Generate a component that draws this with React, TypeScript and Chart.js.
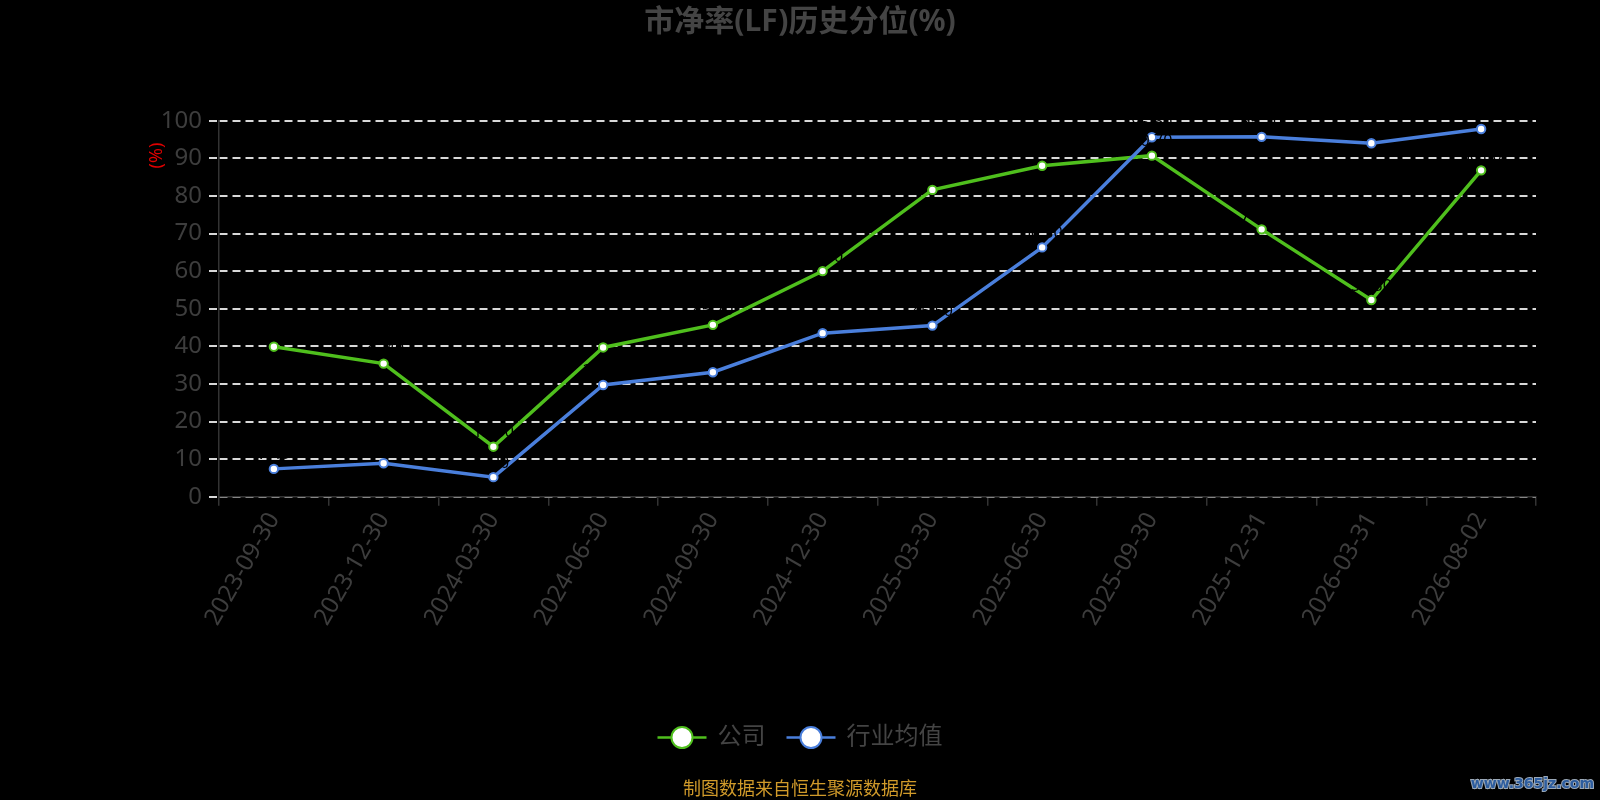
import React, { useEffect, useRef } from 'react';
import { Chart, registerables } from 'chart.js';

Chart.register(...registerables);

const categories = [
  '2023-09-30', '2023-12-30', '2024-03-30', '2024-06-30', '2024-09-30', '2024-12-30',
  '2025-03-30', '2025-06-30', '2025-09-30', '2025-12-31', '2026-03-31', '2026-08-02',
];
const companyValues = [39.9, 35.4, 13.3, 39.7, 45.7, 60.0, 81.6, 88.0, 90.7, 71.1, 52.3, 86.8];
const industryValues = [7.4, 8.9, 5.2, 29.7, 33.1, 43.5, 45.5, 66.3, 95.6, 95.7, 94.0, 97.8];
const seriesNames = ['公司', '行业均值'];
const titleText = '市净率(LF)历史分位(%)';
const yAxisTitle = '(%)';
const footerText = '制图数据来自恒生聚源数据库';
const watermarkText = 'www.365jz.com';

const GREEN = '#4fbf1d';
const BLUE = '#4a7fdc';
const TEXT_GREY = '#3d3d3d';
const FONT = '"Noto Sans", "Noto Sans CJK SC", sans-serif';

const overlayPlugin = {
  id: 'overlay',
  afterDatasetsDraw(chart: any) {
    const ctx = chart.ctx;
    ctx.save();
    ctx.fillStyle = '#000';
    ctx.font = `16px ${FONT}`;
    ctx.textAlign = 'center';
    ctx.textBaseline = 'bottom';
    chart.data.datasets.forEach((ds: any, i: number) => {
      const meta = chart.getDatasetMeta(i);
      meta.data.forEach((pt: any, j: number) => {
        ctx.fillText(Number(ds.data[j]).toFixed(2), pt.x, pt.y - 6);
      });
    });
    ctx.restore();
  },
  afterDraw(chart: any) {
    const ctx = chart.ctx;
    const W = chart.width;
    ctx.save();
    // title
    ctx.fillStyle = '#444';
    ctx.font = `bold 30px ${FONT}`;
    ctx.textAlign = 'center';
    ctx.textBaseline = 'middle';
    ctx.fillText(titleText, W / 2, 22);

    // y axis title
    ctx.save();
    ctx.translate(157, 155.5);
    ctx.rotate(-Math.PI / 2);
    ctx.fillStyle = '#e00000';
    ctx.font = `18px ${FONT}`;
    ctx.textAlign = 'center';
    ctx.textBaseline = 'middle';
    ctx.fillText(yAxisTitle, 0, 0);
    ctx.restore();

    // legend
    const colors = [GREEN, BLUE];
    ctx.font = `24px ${FONT}`;
    const lineW = 49;
    const gapText = 11;
    const gapItem = 21;
    const widths = seriesNames.map((n) => ctx.measureText(n).width);
    const total = widths.reduce((a, w) => a + lineW + gapText + w, 0) + gapItem * (seriesNames.length - 1);
    let x = W / 2 - total / 2;
    const ly = 737.5;
    seriesNames.forEach((n, i) => {
      ctx.strokeStyle = colors[i];
      ctx.lineWidth = 2.5;
      ctx.beginPath();
      ctx.moveTo(x, ly);
      ctx.lineTo(x + lineW, ly);
      ctx.stroke();
      ctx.beginPath();
      ctx.arc(x + lineW / 2, ly, 10.5, 0, Math.PI * 2);
      ctx.fillStyle = '#fff';
      ctx.fill();
      ctx.lineWidth = 2;
      ctx.stroke();
      ctx.fillStyle = '#444';
      ctx.textAlign = 'left';
      ctx.textBaseline = 'middle';
      ctx.fillText(n, x + lineW + gapText, ly);
      x += lineW + gapText + widths[i] + gapItem;
    });

    // footer
    ctx.font = `18px ${FONT}`;
    ctx.fillStyle = '#d09a2a';
    ctx.textAlign = 'center';
    ctx.textBaseline = 'middle';
    ctx.fillText(footerText, W / 2, 790);

    // watermark
    ctx.font = `bold 14px "DejaVu Sans", sans-serif`;
    ctx.textAlign = 'right';
    ctx.textBaseline = 'middle';
    ctx.lineWidth = 2;
    ctx.strokeStyle = '#9aa8b8';
    ctx.strokeText(watermarkText, 1594, 784);
    ctx.fillStyle = '#2d5d9f';
    ctx.fillText(watermarkText, 1594, 784);
    ctx.restore();
  },
};

export default function App() {
  const ref = useRef<HTMLCanvasElement | null>(null);

  useEffect(() => {
    document.body.style.margin = '0';
    document.body.style.background = '#000';
    const canvas = ref.current;
    if (!canvas) return;
    const chart = new Chart(canvas, {
      type: 'line',
      data: {
        labels: categories,
        datasets: [
          {
            label: seriesNames[0],
            data: companyValues,
            borderColor: GREEN,
            backgroundColor: '#fff',
            borderWidth: 3.5,
            pointRadius: 4.2,
            pointBorderWidth: 2,
            pointBackgroundColor: '#fff',
            pointBorderColor: GREEN,
            tension: 0,
            order: 1,
          },
          {
            label: seriesNames[1],
            data: industryValues,
            borderColor: BLUE,
            backgroundColor: '#fff',
            borderWidth: 3.5,
            pointRadius: 4.2,
            pointBorderWidth: 2,
            pointBackgroundColor: '#fff',
            pointBorderColor: BLUE,
            tension: 0,
            order: 0,
          },
        ],
      },
      options: {
        responsive: false,
        animation: false,
        devicePixelRatio: 1,
        layout: { padding: { left: 0, right: 64, top: 120.7, bottom: 0 } },
        plugins: {
          legend: { display: false },
          title: { display: false },
          tooltip: { enabled: false },
        },
        scales: {
          x: {
            type: 'category',
            offset: true,
            afterFit: (scale: any) => {
              scale.height = 303.3;
            },
            grid: {
              display: true,
              offset: true,
              drawOnChartArea: false,
              drawTicks: true,
              tickLength: 9,
              color: '#333',
              tickColor: '#333',
              lineWidth: 1.5,
            },
            border: { display: true, color: '#333', width: 1.5 },
            ticks: {
              autoSkip: false,
              maxRotation: 60,
              minRotation: 60,
              padding: 2,
              color: TEXT_GREY,
              font: { size: 24, family: FONT },
            },
          },
          y: {
            min: 0,
            max: 100,
            afterFit: (scale: any) => {
              scale.width = 219;
            },
            grid: {
              color: '#d8d8d8',
              lineWidth: 2,
              tickBorderDash: [8, 5],
              tickLength: 10,
              tickColor: '#d8d8d8',
            },
            border: { display: true, color: '#333', width: 1.5, dash: [8, 5] },
            ticks: {
              stepSize: 10,
              padding: 7,
              color: TEXT_GREY,
              font: { size: 24, family: FONT },
            },
          },
        },
      },
      plugins: [overlayPlugin],
    });
    return () => chart.destroy();
  }, []);

  return (
    <div style={{ width: 1600, height: 800, background: '#000' }}>
      <canvas ref={ref} width={1600} height={800} style={{ display: 'block' }} />
    </div>
  );
}
